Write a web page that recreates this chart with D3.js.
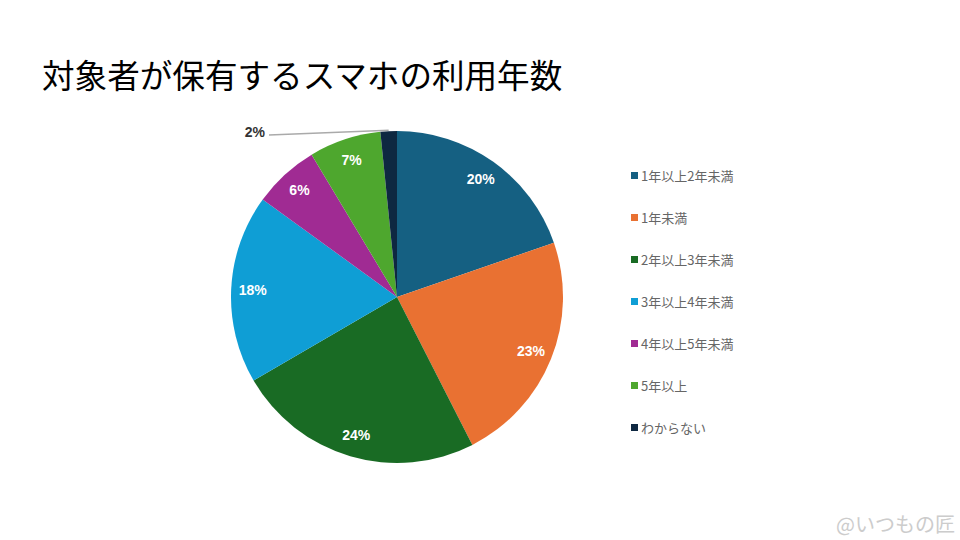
<!DOCTYPE html>
<html><head><meta charset="utf-8">
<script src="https://cdn.jsdelivr.net/npm/d3@7"></script>
<style>body{margin:0;background:#fff}svg{display:block}</style>
</head><body>
<svg id="c" width="960" height="540"></svg>
<script>
const categories = ["1年以上2年未満","1年未満","2年以上3年未満","3年以上4年未満","4年以上5年未満","5年以上","わからない"];
const values = [19.7, 22.8, 24.1, 18.4, 6.4, 7.0, 1.6];
const labels = ["20%","23%","24%","18%","6%","7%","2%"];
const colors = ["#156082","#E97132","#196B24","#0F9ED5","#A02B93","#4EA72E","#0E2841"];
const title = "対象者が保有するスマホの利用年数";

const svg = d3.select("#c");
const cx = 397, cy = 297, r = 166;
svg.append("text").attr("x", 42).attr("y", 88)
  .attr("font-family", "'Noto Sans CJK JP', sans-serif").attr("font-size", 32.6)
  .attr("fill", "#000").text(title);

const data = categories.map((c,i)=>({c, v: values[i], l: labels[i], col: colors[i]}));
const pie = d3.pie().value(d=>d.v).sort(null);
const arcs = pie(data);
const arc = d3.arc().innerRadius(0).outerRadius(r);
const g = svg.append("g").attr("transform", `translate(${cx},${cy})`);
g.selectAll("path").data(arcs).enter().append("path")
  .attr("d", arc).attr("fill", d=>d.data.col);

const labelArc = d3.arc().innerRadius(r*0.87).outerRadius(r*0.87);
arcs.forEach((a,i)=>{
  if (a.data.v < 3) {
    const mid = (a.startAngle + a.endAngle)/2;
    const px = Math.sin(mid)*r, py = -Math.cos(mid)*r;
    g.append("path").attr("d", `M${px},${py - 1} L${-128},${-162}`)
      .attr("stroke", "#aaa").attr("stroke-width", 1.5).attr("fill","none");
    g.append("text").attr("x", -132).attr("y", -160)
      .attr("text-anchor","end").attr("font-family","'Liberation Sans', Arial, sans-serif")
      .attr("font-weight","bold").attr("font-size",14).attr("fill","#333").text(a.data.l);
  } else {
    const [x,y] = labelArc.centroid(a);
    g.append("text").attr("x", x).attr("y", y).attr("dy","0.35em")
      .attr("text-anchor","middle").attr("font-family","'Liberation Sans', Arial, sans-serif")
      .attr("font-weight","bold").attr("font-size",14).attr("fill","#fff").text(a.data.l);
  }
});

const legend = svg.append("g");
const ly = d3.scalePoint().domain(categories).range([176, 428]);
categories.forEach((c,i)=>{
  legend.append("rect").attr("x", 631).attr("y", ly(c)-4).attr("width", 7).attr("height", 7).attr("fill", colors[i]);
  legend.append("text").attr("x", 641).attr("y", ly(c)).attr("dy","0.35em")
    .attr("font-family","'Noto Sans CJK JP', sans-serif").attr("font-size",13).attr("fill","#666").text(c);
});

svg.append("text").attr("x", 955).attr("y", 532).attr("text-anchor","end")
  .attr("font-family","'Noto Sans CJK JP', sans-serif").attr("font-size",20).attr("fill","#ccc").text("@いつもの匠");
</script>
</body></html>
